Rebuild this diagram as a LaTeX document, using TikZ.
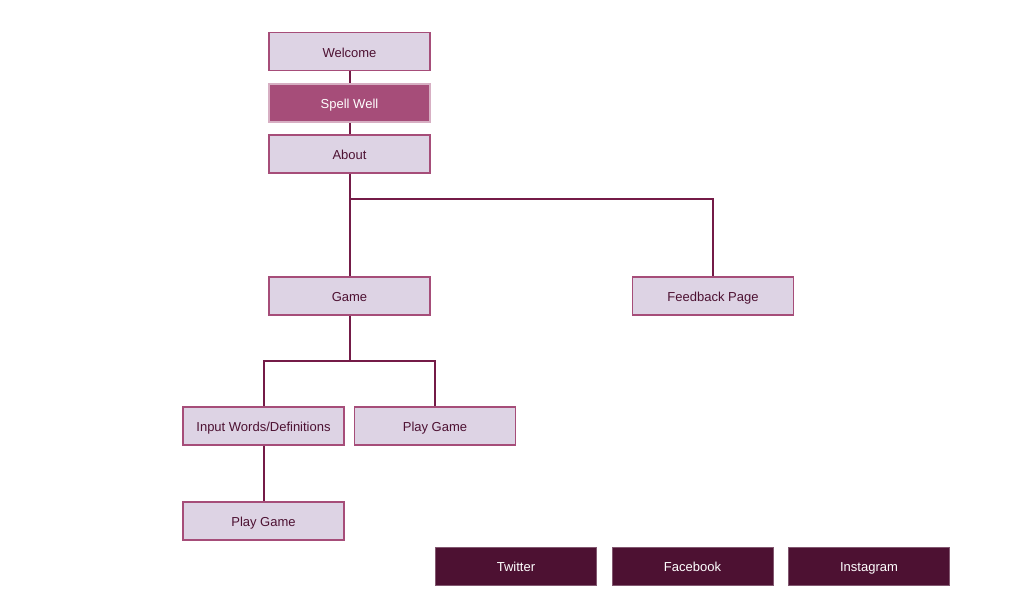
\documentclass[tikz,border=0pt]{standalone}
\usepackage{fontspec}
\setmainfont{Liberation Sans}
\definecolor{pagefill}{HTML}{DDD3E4}
\definecolor{pageedge}{HTML}{A64D79}
\definecolor{darkplum}{HTML}{4D1132}
\definecolor{wirecol}{HTML}{741B47}

\begin{document}
\begin{tikzpicture}[x=1pt, y=-1pt,
    page/.style={draw=pageedge, line width=1.8pt, fill=pagefill, text=darkplum,
        minimum width=161pt, minimum height=38pt, inner sep=0pt,
        text height=11pt, text depth=0pt,
        font=\fontsize{13}{15}\selectfont},
    brand/.style={page, draw=pageedge!45, fill=pageedge, text=white},
    social/.style={page, draw=darkplum!70!white, line width=0.8pt, fill=darkplum, text=white},
    wire/.style={wirecol, line width=2pt}]
    \useasboundingbox (0,0) rectangle (1022,605);
    \node[page] (welcome) at (349.5,51.5) {Welcome};
    \node[brand] (spell) at (349.5,103) {Spell Well};
    \node[page] (about) at (349.5,154) {About};
    \node[page] (game) at (349.5,296) {Game};
    \node[page] (feedback) at (713,296) {Feedback Page};
    \node[page] (input) at (263.5,426) {Input Words/Definitions};
    \node[page] (play) at (435,426) {Play Game};
    \node[page] (playtwo) at (263.5,521) {Play Game};
    \node[social] (twitter) at (516,566) {Twitter};
    \node[social] (facebook) at (692.5,566) {Facebook};
    \node[social] (instagram) at (869,566) {Instagram};

    \draw[wire] (welcome) -- (spell);
    \draw[wire] (spell) -- (about);
    \draw[wire] (about) -- (game);
    \draw[wire] (about.south) |- (349.5,199) -| (feedback.north);
    \draw[wire] (game.south) |- (349.5,361) -| (input.north);
    \draw[wire] (game.south) |- (349.5,361) -| (play.north);
    \draw[wire] (input) -- (playtwo);
\end{tikzpicture}
\end{document}
